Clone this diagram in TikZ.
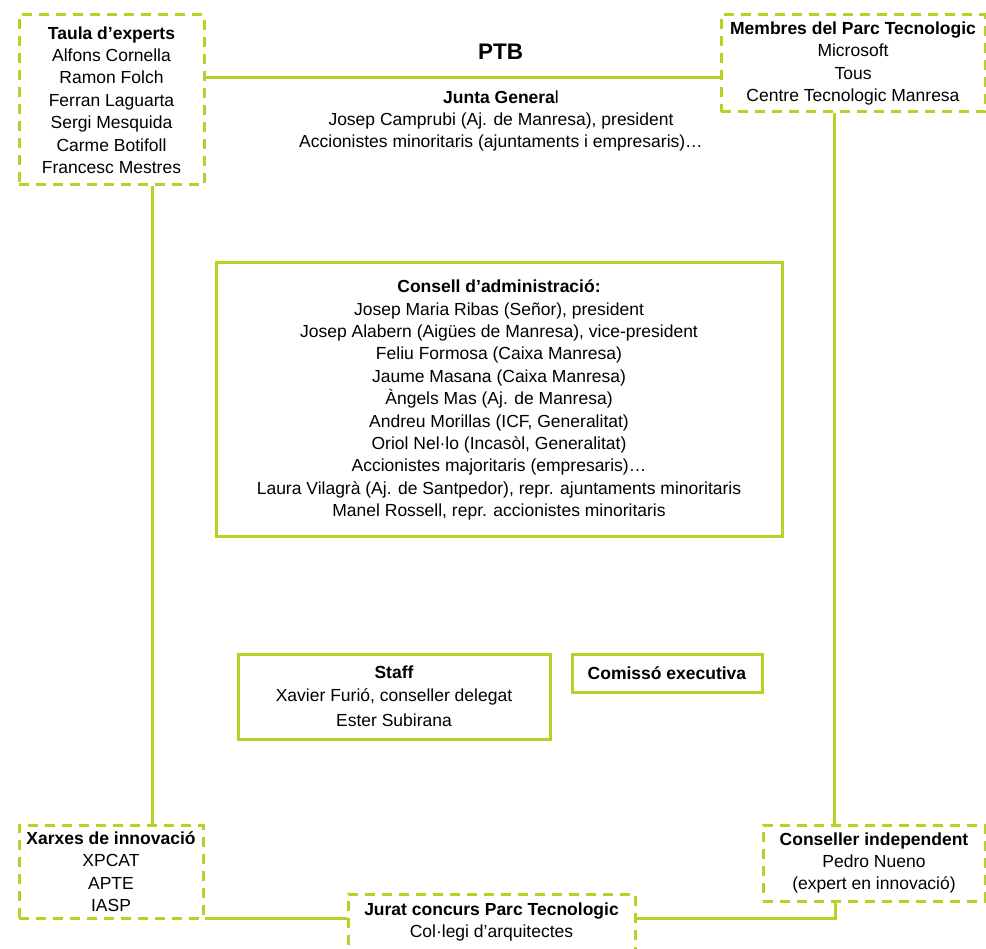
\documentclass[tikz,border=0pt]{standalone}
\usepackage{fontspec}
\setmainfont{Liberation Sans}
\usetikzlibrary{calc}
\definecolor{ptbgreen}{RGB}{182,210,36}
\tikzset{
  txt/.style={font=\fontsize{17.5}{22.4}\selectfont, align=center, inner sep=0pt},
  dbox/.style={txt, draw=ptbgreen, line width=3pt, dash pattern=on 10pt off 7pt},
  sbox/.style={txt, draw=ptbgreen, line width=3pt},
  conn/.style={draw=ptbgreen, line width=3pt}
}
\begin{document}
\begin{tikzpicture}[x=1pt,y=-1pt]
\useasboundingbox (0,0) rectangle (986,949);
\fill[white] (0,0) rectangle (986,949);

\node[dbox, minimum width=185pt, minimum height=170pt] (taula) at (111.5,100)
  {\textbf{Taula d’experts}\\Alfons Cornella\\Ramon Folch\\Ferran Laguarta\\Sergi Mesquida\\Carme Botifoll\\Francesc Mestres};

\node[dbox, minimum width=264pt, minimum height=97pt] (membres) at (853,63.5)
  {\textbf{Membres del Parc Tecnologic}\\Microsoft\\Tous\\Centre Tecnologic Manresa};

\node[txt, font=\fontsize{22.5}{26}\selectfont\bfseries] (ptb) at (500.5,52) {PTB};

\node[txt] (junta) at (501,121)
  {{\bfseries Junta Genera}l\\Josep Camprubi (Aj. de Manresa), president\\Accionistes minoritaris (ajuntaments i empresaris)…};

\node[sbox, minimum width=566pt, minimum height=274pt] (consell) at (499,400)
  {\textbf{Consell d’administració:}\\
   Josep Maria Ribas (Señor), president\\
   Josep Alabern (Aigües de Manresa), vice-president\\
   Feliu Formosa (Caixa Manresa)\\
   Jaume Masana (Caixa Manresa)\\
   Àngels Mas (Aj. de Manresa)\\
   Andreu Morillas (ICF, Generalitat)\\
   Oriol Nel·lo (Incasòl, Generalitat)\\
   Accionistes majoritaris (empresaris)…\\
   Laura Vilagrà (Aj. de Santpedor), repr. ajuntaments minoritaris\\
   Manel Rossell, repr. accionistes minoritaris};

\node[sbox, minimum width=312pt, minimum height=85pt] (staff) at (394,696.5)
  {\textbf{Staff}\\Xavier Furió, conseller delegat\\[3pt]Ester Subirana};

\node[sbox, minimum width=190pt, minimum height=38pt] (comisso) at (667,673)
  {\textbf{Comissó executiva}};

\node[dbox, minimum width=184pt, minimum height=93pt] (xarxes) at (111,871.5)
  {\textbf{Xarxes de innovació}\\XPCAT\\APTE\\IASP};

\node[dbox, minimum width=222pt, minimum height=76pt] (conseller) at (874,863)
  {\textbf{Conseller independent}\\Pedro Nueno\\(expert en innovació)};

\node[dbox, minimum width=287pt, minimum height=82pt] (jurat) at (491.5,935)
  {\textbf{Jurat concurs Parc Tecnologic}\\Col·legi d’arquitectes\\\strut};

% connectors
\draw[conn] ([yshift=22pt]taula.east) -- ([yshift=22pt]taula.east -| membres.west);
\draw[conn] ([xshift=40.5pt]taula.south) -- ([xshift=40.5pt]taula.south |- xarxes.north);
\draw[conn] ([xshift=-19pt]membres.south) -- ([xshift=-19pt]membres.south |- conseller.north);
\draw[conn] ([yshift=1pt]xarxes.south east) -- ([yshift=1pt]xarxes.south east -| jurat.west);
\draw[conn] ([yshift=1pt]xarxes.south east -| jurat.east) -| ([xshift=-39pt]conseller.south);
\end{tikzpicture}
\end{document}
